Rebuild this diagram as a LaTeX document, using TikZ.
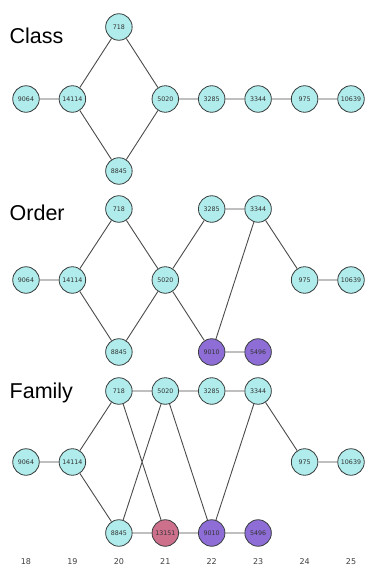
\documentclass[tikz,border=0pt]{standalone}
\usepackage{fontspec}
\setmainfont{Liberation Sans}
\newfontfamily\djv{DejaVu Sans}
\definecolor{ncyan}{RGB}{176,236,236}
\definecolor{npurple}{RGB}{142,110,214}
\definecolor{npink}{RGB}{204,112,140}
\definecolor{nborder}{RGB}{55,60,60}
\definecolor{nedge}{RGB}{75,75,75}
\tikzset{
  nd/.style={circle, draw=nborder, line width=0.8pt, fill=ncyan, minimum size=26.5pt, inner sep=0pt, font=\djv\fontsize{6.3}{7}\selectfont, text=black!80},
  ndp/.style={nd, fill=npurple},
  ndk/.style={nd, fill=npink},
  ed/.style={draw=nedge, line width=0.9pt},
  ttl/.style={anchor=base west, font=\fontsize{21.5}{24}\selectfont, inner sep=0pt},
  axl/.style={font=\djv\fontsize{8}{9}\selectfont, text=black!75}
}
\begin{document}
\begin{tikzpicture}[x=1pt,y=-1pt]
\useasboundingbox (0,0) rectangle (365,568);
\def\xA{26}\def\xB{72.4}\def\xC{118.9}\def\xD{165.3}\def\xE{211.7}\def\xF{258.1}\def\xG{304.6}\def\xH{351}
% Class
\node[ttl] (tc) at (9.5,43.5) {Class};
\node[nd] (c9064) at (\xA,99) {9064};
\node[nd] (c14114) at (\xB,99) {14114};
\node[nd] (c718) at (\xC,27) {718};
\node[nd] (c8845) at (\xC,171) {8845};
\node[nd] (c5020) at (\xD,99) {5020};
\node[nd] (c3285) at (\xE,99) {3285};
\node[nd] (c3344) at (\xF,99) {3344};
\node[nd] (c975) at (\xG,99) {975};
\node[nd] (c10639) at (\xH,99) {10639};
\draw[ed] (c9064)--(c14114) (c14114)--(c718) (c14114)--(c8845) (c718)--(c5020) (c8845)--(c5020)
  (c5020)--(c3285) (c3285)--(c3344) (c3344)--(c975) (c975)--(c10639);
% Order
\node[ttl] (to) at (9.5,220.5) {Order};
\node[nd] (o9064) at (\xA,280) {9064};
\node[nd] (o14114) at (\xB,280) {14114};
\node[nd] (o718) at (\xC,209) {718};
\node[nd] (o8845) at (\xC,352) {8845};
\node[nd] (o5020) at (\xD,280) {5020};
\node[nd] (o3285) at (\xE,209) {3285};
\node[nd] (o3344) at (\xF,209) {3344};
\node[nd] (o975) at (\xG,280) {975};
\node[nd] (o10639) at (\xH,280) {10639};
\node[ndp] (o9010) at (\xE,352) {9010};
\node[ndp] (o5496) at (\xF,352) {5496};
\draw[ed] (o9064)--(o14114) (o14114)--(o718) (o14114)--(o8845) (o718)--(o5020) (o8845)--(o5020)
  (o5020)--(o3285) (o3285)--(o3344) (o3344)--(o975) (o975)--(o10639)
  (o5020)--(o9010) (o3344)--(o9010) (o9010)--(o5496);
% Family
\node[ttl] (tf) at (9.5,398.5) {Family};
\node[nd] (f9064) at (\xA,462) {9064};
\node[nd] (f14114) at (\xB,462) {14114};
\node[nd] (f718) at (\xC,391) {718};
\node[nd] (f5020) at (\xD,391) {5020};
\node[nd] (f3285) at (\xE,391) {3285};
\node[nd] (f3344) at (\xF,391) {3344};
\node[nd] (f975) at (\xG,462) {975};
\node[nd] (f10639) at (\xH,462) {10639};
\node[nd] (f8845) at (\xC,533) {8845};
\node[ndk] (f13151) at (\xD,533) {13151};
\node[ndp] (f9010) at (\xE,533) {9010};
\node[ndp] (f5496) at (\xF,533) {5496};
\draw[ed] (f9064)--(f14114) (f14114)--(f718) (f14114)--(f8845) (f718)--(f5020) (f5020)--(f3285)
  (f3285)--(f3344) (f3344)--(f975) (f975)--(f10639) (f718)--(f13151) (f5020)--(f8845)
  (f5020)--(f9010) (f3344)--(f9010) (f8845)--(f13151) (f13151)--(f9010) (f9010)--(f5496);
% axis labels
\node[axl] (a18) at (\xA,562) {18};
\node[axl] (a19) at (\xB,562) {19};
\node[axl] (a20) at (\xC,562) {20};
\node[axl] (a21) at (\xD,562) {21};
\node[axl] (a22) at (\xE,562) {22};
\node[axl] (a23) at (\xF,562) {23};
\node[axl] (a24) at (\xG,562) {24};
\node[axl] (a25) at (\xH,562) {25};
\end{tikzpicture}
\end{document}
